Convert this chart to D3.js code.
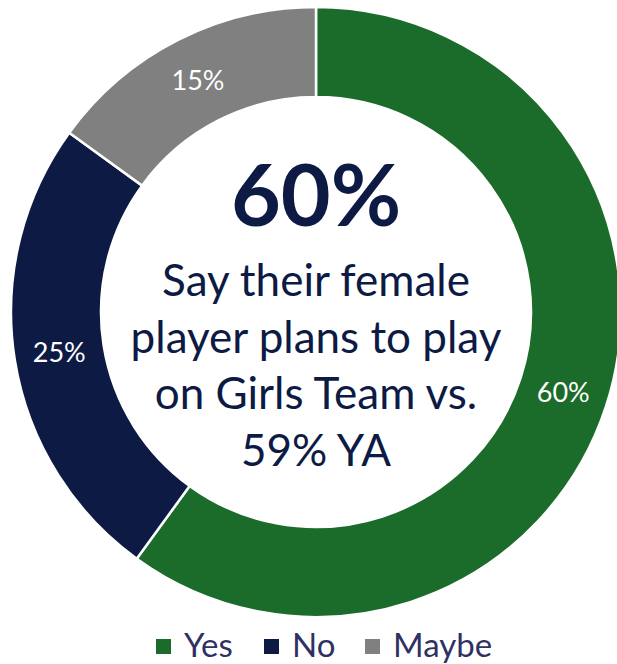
<!DOCTYPE html>
<html>
<head>
<meta charset="utf-8">
<script src="https://cdn.jsdelivr.net/npm/d3@7"></script>
<style>
  html, body { margin: 0; padding: 0; background: #fff; }
  svg { display: block; font-family: Lato, "Open Sans", sans-serif; }
</style>
</head>
<body>
<svg id="chart" width="617" height="664"></svg>
<script>
// Survey answers and their shares (%)
const categories = ["Yes", "No", "Maybe"];
const shares = [60, 25, 15];
const sliceColors = ["#1b6b2a", "#0c1a44", "#808080"];

// Headline text in the hole
const headline = "60%";
const subLines = ["Say their female", "player plans to play", "on Girls Team vs.", "59% YA"];

const svg = d3.select("#chart");
const cx = 316, cy = 312, outerR = 305, innerR = 215;

const color = d3.scaleOrdinal().domain(categories).range(sliceColors);

const pie = d3.pie().sort(null).value(d => d.value);
const arcs = pie(categories.map((c, i) => ({ name: c, value: shares[i] })));

const arc = d3.arc().innerRadius(innerR).outerRadius(outerR);
const labelArc = d3.arc().innerRadius(260).outerRadius(260);

const g = svg.append("g").attr("transform", `translate(${cx},${cy})`);

g.selectAll("path.slice")
  .data(arcs)
  .join("path")
  .attr("class", "slice")
  .attr("d", arc)
  .attr("fill", d => color(d.data.name))
  .attr("stroke", "#fff")
  .attr("stroke-width", 2.5);

g.selectAll("text.pct")
  .data(arcs)
  .join("text")
  .attr("class", "pct")
  .attr("transform", d => `translate(${labelArc.centroid(d)})`)
  .attr("text-anchor", "middle")
  .attr("dy", "0.36em")
  .attr("fill", "#fff")
  .attr("font-size", 27)
  .text(d => d.data.value + "%");

// Centre text
g.append("text")
  .attr("x", 0).attr("y", -86)
  .attr("text-anchor", "middle")
  .attr("fill", "#0c1a44")
  .attr("font-weight", "bold")
  .attr("font-size", 86)
  .text(headline);

g.selectAll("text.sub")
  .data(subLines)
  .join("text")
  .attr("class", "sub")
  .attr("x", 0)
  .attr("y", (d, i) => -16 + i * 56.7)
  .attr("text-anchor", "middle")
  .attr("fill", "#0c1a44")
  .attr("font-size", 44)
  .text(d => d);

// Legend
const legendX = [156, 264, 365];
const legend = svg.append("g").attr("transform", "translate(0,639)");
const items = legend.selectAll("g")
  .data(categories)
  .join("g")
  .attr("transform", (d, i) => `translate(${legendX[i]},0)`);
items.append("rect")
  .attr("width", 15).attr("height", 15)
  .attr("fill", d => color(d));
items.append("text")
  .attr("x", 28).attr("y", 18)
  .attr("fill", "#2e3162")
  .attr("font-size", 33)
  .text(d => d);
</script>
</body>
</html>
